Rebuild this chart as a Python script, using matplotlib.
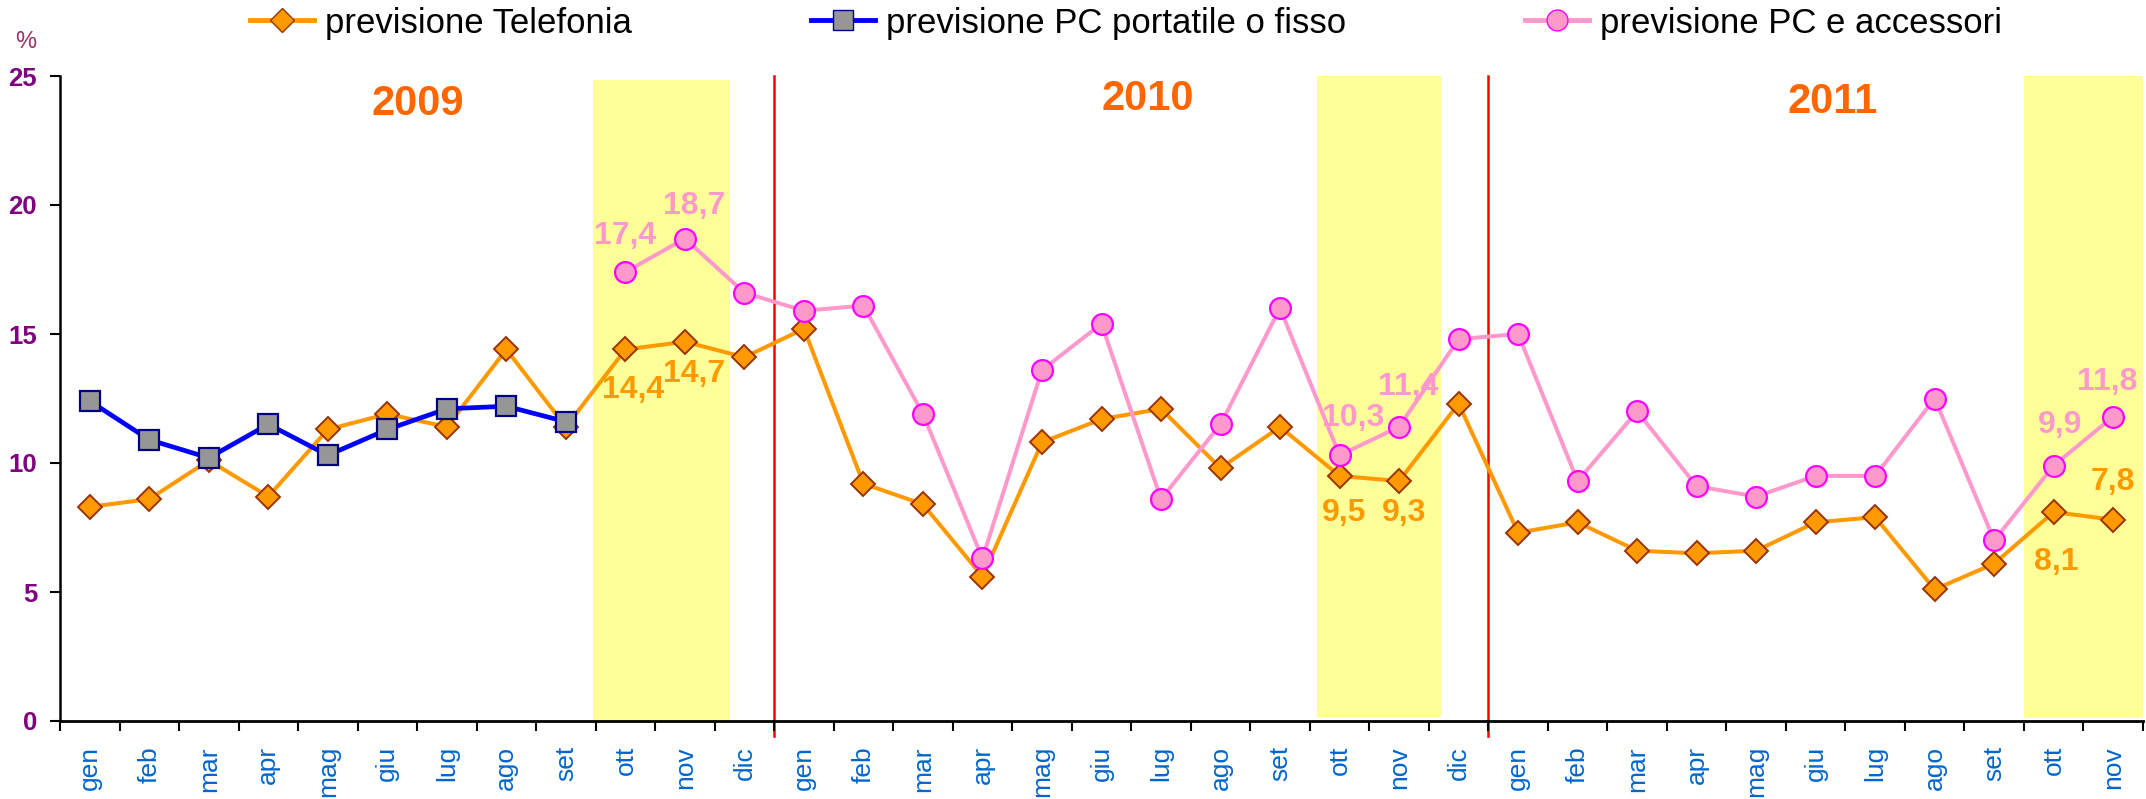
import numpy as np
import matplotlib
matplotlib.use("Agg")
import matplotlib.pyplot as plt
from matplotlib.lines import Line2D

plt.rcParams['font.family'] = ['Liberation Sans', 'DejaVu Sans']

# month labels, gen 2009 .. nov 2011
mesi = ['gen', 'feb', 'mar', 'apr', 'mag', 'giu', 'lug', 'ago', 'set', 'ott', 'nov', 'dic']
labels = mesi * 2 + mesi[:11]

# previsione Telefonia (all months)
telefonia = [8.3, 8.6, 10.1, 8.7, 11.3, 11.9, 11.4, 14.4, 11.4, 14.4, 14.7, 14.1,
             15.2, 9.2, 8.4, 5.6, 10.8, 11.7, 12.1, 9.8, 11.4, 9.5, 9.3, 12.3,
             7.3, 7.7, 6.6, 6.5, 6.6, 7.7, 7.9, 5.1, 6.1, 8.1, 7.8]

# previsione PC portatile o fisso (gen-set 2009)
pc_portatile = [12.4, 10.9, 10.2, 11.5, 10.3, 11.3, 12.1, 12.2, 11.6]

# previsione PC e accessori (from ott 2009)
pc_accessori = [17.4, 18.7, 16.6,
                15.9, 16.1, 11.9, 6.3, 13.6, 15.4, 8.6, 11.5, 16.0, 10.3, 11.4, 14.8,
                15.0, 9.3, 12.0, 9.1, 8.7, 9.5, 9.5, 12.5, 7.0, 9.9, 11.8]

anni = ['2009', '2010', '2011']

x_all = np.arange(len(labels))
x_port = np.arange(len(pc_portatile))
x_acc = np.arange(9, 9 + len(pc_accessori))

W, H = 2146, 799
fig = plt.figure(figsize=(W / 100, H / 100), dpi=100)
ax = fig.add_axes([60 / W, 78 / H, 2083 / W, 645 / H])

# yellow bands (ott-nov forecasts)
ax.axvspan(8.45, 10.75, ymin=0, ymax=24.85 / 25, color='#FFFF99', lw=0, zorder=0)
ax.axvspan(20.62, 22.7, ymin=0.17 / 25, ymax=1, color='#FFFF99', lw=0, zorder=0)
ax.axvspan(32.5, 34.5, ymin=0.13 / 25, ymax=1, color='#FFFF99', lw=0, zorder=0)

# year separators
for xs in (11.5, 23.5):
    ax.plot([xs, xs], [-0.6, 25], color='red', lw=1.8, clip_on=False, zorder=1)

orange = '#FF9900'
pink = '#FF99CC'
ax.plot(x_all, telefonia, color=orange, lw=2.9, marker='D', ms=12,
        mfc=orange, mec='#993300', mew=1.4, zorder=3, clip_on=False)
ax.plot(x_port, pc_portatile, color='#0000FF', lw=3.4, marker='s', ms=15,
        mfc='#969696', mec='#000080', mew=1.6, zorder=4, clip_on=False)
ax.plot(x_acc, pc_accessori, color=pink, lw=2.9, marker='o', ms=15,
        mfc=pink, mec='#FF00FF', mew=1.6, zorder=5, clip_on=False)

# data labels
lab_pink = [(9, 18.8, '17,4'), (10.16, 19.96, '18,7'), (21.22, 11.73, '10,3'),
            (22.16, 12.96, '11,4'), (33.1, 11.47, '9,9'), (33.9, 13.15, '11,8')]
lab_orange = [(9.13, 12.83, '14,4'), (10.16, 13.45, '14,7'), (21.07, 8.05, '9,5'),
              (22.08, 8.05, '9,3'), (33.04, 6.17, '8,1'), (34.0, 9.28, '7,8')]
for xx, yy, t in lab_pink:
    ax.text(xx, yy, t, color=pink, fontsize=23, fontweight='bold',
            ha='center', va='center', zorder=6)
for xx, yy, t in lab_orange:
    ax.text(xx, yy, t, color=orange, fontsize=23, fontweight='bold',
            ha='center', va='center', zorder=6)

# year titles
for xx, yy, t in zip([5.51, 17.78, 29.28], [23.9, 24.1, 24.0], anni):
    ax.text(xx, yy, t, color='#FF6600', fontsize=30, fontweight='bold',
            ha='center', va='center', zorder=6)

ax.set_xlim(-0.5, 34.5)
ax.set_ylim(0, 25)
ax.set_yticks([0, 5, 10, 15, 20, 25])
ax.set_yticklabels(['0', '5', '10', '15', '20', '25'], color='#800080',
                   fontsize=18.5, fontweight='bold')
ax.tick_params(axis='y', direction='out', length=7.5, width=1.5, pad=9)

ax.set_xticks(np.arange(-0.5, 35, 1))
ax.set_xticklabels([])
ax.set_xticks(x_all, minor=True)
ax.set_xticklabels(labels, minor=True, rotation=90, color='#0066CC', fontsize=19)
ax.tick_params(axis='x', which='major', direction='out', length=7, width=1.5)
ax.tick_params(axis='x', which='minor', length=0, pad=18)

for s in ('top', 'right'):
    ax.spines[s].set_visible(False)
ax.spines['left'].set_linewidth(1.8)
ax.spines['bottom'].set_linewidth(2)

fig.text(26 / W, 1 - 42 / H, '%', color='#993366', fontsize=17,
         ha='center', va='center')

# legend, one entry at a time
h1 = Line2D([], [], color=orange, lw=3.5, marker='D', ms=12, mfc=orange, mec='#993300')
h2 = Line2D([], [], color='#0000FF', lw=3.5, marker='s', ms=14, mfc='#969696', mec='#000080')
h3 = Line2D([], [], color=pink, lw=3.5, marker='o', ms=15, mfc=pink, mec='#FF00FF')
for h, t, xl in [(h1, 'previsione Telefonia', 250),
                 (h2, 'previsione PC portatile o fisso', 811),
                 (h3, 'previsione PC e accessori', 1525)]:
    fig.legend([h], [t], loc='center left', bbox_to_anchor=(xl / W, 1 - 23 / H),
               frameon=False, fontsize=25, handlelength=1.85, handletextpad=0.3,
               borderpad=0, borderaxespad=0)

fig.savefig('out.png', dpi=100)
